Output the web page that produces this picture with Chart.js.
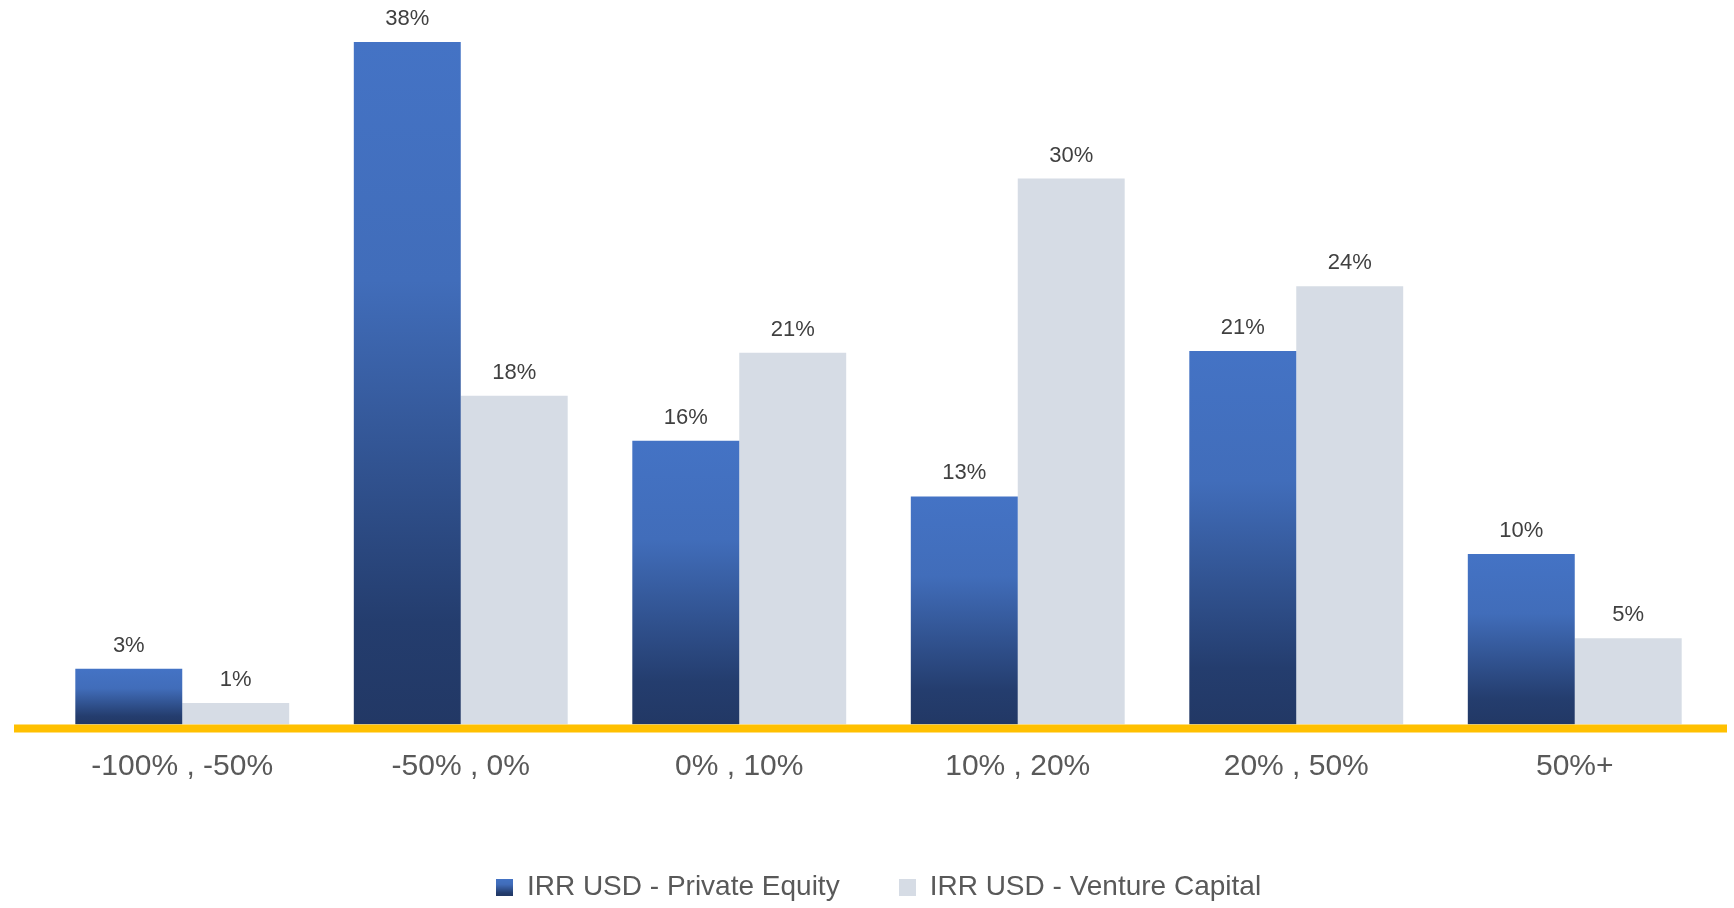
<!DOCTYPE html>
<html>
<head>
<meta charset="utf-8">
<script src="https://cdn.jsdelivr.net/npm/chart.js@4/dist/chart.umd.min.js"></script>
<style>
  html, body { margin: 0; padding: 0; background: #fff; }
  #wrap { width: 1734px; height: 908px; }
</style>
</head>
<body>
<div id="wrap"><canvas id="irr" width="1734" height="908"></canvas></div>
<script>
// data
const categories = ['-100% , -50%', '-50% , 0%', '0% , 10%', '10% , 20%', '20% , 50%', '50%+'];
const seriesNames = ['IRR USD - Private Equity', 'IRR USD - Venture Capital'];
const peValues = [3.1, 38.0, 15.8, 12.7, 20.8, 9.5];
const vcValues = [1.2, 18.3, 20.7, 30.4, 24.4, 4.8];
const yMax = 40.34;

const PE_TOP = '#4472C4';
const VC_COL = '#D6DCE5';
const AXIS_COL = '#FFC000';
const FONT = '"Liberation Sans", Arial, sans-serif';

function peGradient(ctx, top, base) {
  const g = ctx.createLinearGradient(0, top, 0, base);
  g.addColorStop(0, '#4473C5');
  g.addColorStop(0.35, '#416DBA');
  g.addColorStop(0.85, '#243D6E');
  g.addColorStop(1, '#223865');
  return g;
}

// little swatches for the legend
function swatch(fill) {
  const c = document.createElement('canvas');
  c.width = 17; c.height = 17;
  const x = c.getContext('2d');
  x.fillStyle = fill === 'grad' ? peGradient(x, 0, 17) : fill;
  x.fillRect(0, 0, 17, 17);
  return c;
}
const swatches = [swatch('grad'), swatch(VC_COL)];

const valueLabels = {
  id: 'valueLabels',
  afterDatasetsDraw(chart) {
    const ctx = chart.ctx;
    ctx.save();
    ctx.font = '22px ' + FONT;
    ctx.fillStyle = '#404040';
    ctx.textAlign = 'center';
    ctx.textBaseline = 'alphabetic';
    chart.data.datasets.forEach((ds, i) => {
      chart.getDatasetMeta(i).data.forEach((bar, j) => {
        ctx.fillText(Math.round(ds.data[j]) + '%', bar.x, bar.y - 17);
      });
    });
    ctx.restore();
  }
};

const baseLine = {
  id: 'baseLine',
  afterDatasetsDraw(chart) {
    const ctx = chart.ctx;
    const y0 = chart.scales.y.getPixelForValue(0);
    ctx.save();
    ctx.fillStyle = AXIS_COL;
    ctx.fillRect(14, y0, chart.width - 21, 8);
    ctx.restore();
  }
};

new Chart(document.getElementById('irr'), {
  type: 'bar',
  data: {
    labels: categories,
    datasets: [
      {
        label: seriesNames[0],
        data: peValues,
        backgroundColor: c => {
          const chart = c.chart;
          if (c.type !== 'data' || !chart.chartArea) return PE_TOP;
          const y = chart.scales.y;
          return peGradient(chart.ctx, y.getPixelForValue(c.raw), y.getPixelForValue(0));
        }
      },
      { label: seriesNames[1], data: vcValues, backgroundColor: VC_COL }
    ]
  },
  options: {
    responsive: false,
    animation: false,
    layout: { padding: { left: 43, right: 20, top: 0, bottom: 0 } },
    datasets: { bar: { categoryPercentage: 0.768, barPercentage: 1.0, borderWidth: 0 } },
    scales: {
      x: {
        grid: { display: false },
        border: { display: false },
        ticks: { color: '#595959', font: { size: 30, family: FONT }, padding: 16, maxRotation: 0 },
        afterFit: s => { s.height = 89.5; }
      },
      y: { display: false, min: 0, max: yMax }
    },
    plugins: {
      tooltip: { enabled: false },
      legend: {
        position: 'bottom',
        maxHeight: 94,
        labels: {
          color: '#595959',
          font: { size: 28, family: FONT, lineHeight: 1 },
          usePointStyle: true,
          boxWidth: 17,
          boxHeight: 17,
          padding: 59,
          generateLabels: chart => {
            const items = Chart.defaults.plugins.legend.labels.generateLabels(chart);
            items.forEach((it, i) => { it.pointStyle = swatches[i]; });
            return items;
          }
        }
      }
    }
  },
  plugins: [valueLabels, baseLine]
});
</script>
</body>
</html>
